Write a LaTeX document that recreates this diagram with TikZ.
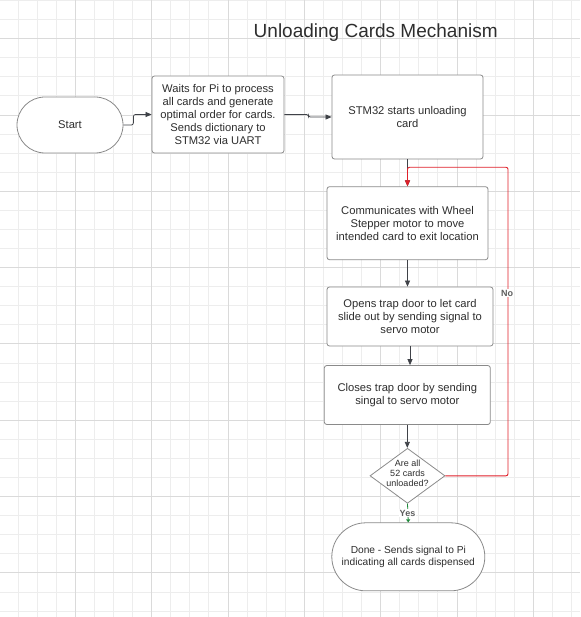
\documentclass[tikz,border=0pt]{standalone}
\usepackage{fontspec}
\setmainfont{Liberation Sans}
\usetikzlibrary{arrows.meta,shapes.geometric,shapes.misc}
\definecolor{gminor}{HTML}{EDEDED}
\definecolor{gmajor}{HTML}{DADADA}
\definecolor{bord}{HTML}{8A8A8A}
\definecolor{txt}{HTML}{2E2E2E}
\definecolor{arr}{HTML}{3F4248}
\definecolor{loopred}{HTML}{E0202A}
\definecolor{yesgreen}{HTML}{1E8A3A}
\definecolor{lbltxt}{HTML}{5E5E5E}
\begin{document}
\begin{tikzpicture}[x=1pt,y=-1pt,
  box/.style={draw=bord, line width=0.8pt, rounded corners=2.5pt, fill=white, text=txt,
    align=center, inner sep=0pt, font=\fontsize{11.2}{12.8}\selectfont},
  term/.style={draw=bord, line width=0.8pt, rounded rectangle, fill=white, text=txt,
    align=center, inner sep=0pt},
  decbox/.style={draw=bord, line width=0.8pt, diamond, fill=white, inner sep=0pt},
  conn/.style={draw=arr, line width=0.75pt, -{Triangle[length=6pt,width=5pt]}, rounded corners=2pt},
  lbl/.style={fill=white, text=lbltxt, font=\bfseries\fontsize{9}{10}\selectfont, inner sep=1pt}
]
\useasboundingbox (0,0) rectangle (580,617);
\fill[white] (0,0) rectangle (580,617);
% grid
\foreach \k in {0,...,30}{\draw[gminor, line width=0.8pt] ({-1+19.08*\k},0) -- ({-1+19.08*\k},617);}
\foreach \k in {0,...,32}{\draw[gminor, line width=0.8pt] (0,{0.44+19.08*\k}) -- (580,{0.44+19.08*\k});}
\foreach \k in {0,4,...,28}{\draw[gmajor, line width=0.8pt] ({-1+19.08*\k},0) -- ({-1+19.08*\k},617);}
\foreach \k in {2,6,...,30}{\draw[gmajor, line width=0.8pt] (0,{0.44+19.08*\k}) -- (580,{0.44+19.08*\k});}

% title
\node[anchor=base, text=txt, font=\fontsize{19}{22}\selectfont, inner sep=0pt] (title) at (375.7,37.8) {Unloading Cards Mechanism};

% nodes
\node[term, minimum width=106pt, minimum height=56pt, font=\fontsize{11.2}{12.8}\selectfont] (start) at (70,125) {Start};
\node[box, minimum width=132pt, minimum height=77pt] (b1) at (218,114.5)
  {Waits for Pi to process\\all cards and generate\\optimal order for cards.\\Sends dictionary to\\STM32 via UART};
\node[box, minimum width=151pt, minimum height=84pt] (b2) at (407.5,117)
  {STM32 starts unloading\\card};
\node[box, minimum width=161pt, minimum height=73pt] (b3) at (407.5,223.2)
  {Communicates with Wheel\\Stepper motor to move\\intended card to exit location};
\node[box, minimum width=166pt, minimum height=59pt] (b4) at (410,316.5)
  {Opens trap door to let card\\slide out by sending signal to\\servo motor};
\node[box, minimum width=166pt, minimum height=59pt] (b5) at (407.3,395)
  {Closes trap door by sending\\singal to servo motor};
\node[decbox, minimum width=75pt, minimum height=55pt] (dec) at (407.5,475.8) {};
\node[text=txt, align=center, inner sep=0pt, font=\fontsize{9}{10}\selectfont] (dectext) at (407.5,473.6)
  {Are all\\52 cards\\unloaded?};
\node[term, minimum width=153pt, minimum height=68pt, font=\fontsize{10.2}{11.7}\selectfont] (done) at (408.3,556.8)
  {Done - Sends signal to Pi\\indicating all cards dispensed};

% connectors
\draw[conn] (start.east) -- ++(10,0) |- (b1.west);
\draw[conn] (b1.east) -- ++(24,0) |- (b2.west);
\draw[conn] (b2.south) -- (b3.north);
\draw[conn] (b3.south) -- (b3.south |- b4.north);
\draw[conn] (b4.south) -- (b4.south |- b5.north);
\draw[conn] (b5.south) -- (b5.south |- dec.north);
\coordinate (loopc) at (508,167.3);
\draw[conn, draw=loopred, line width=0.9pt] (dec.east) -| (loopc) -| (b3.north);
\node[lbl] (no) at (507,293) {No};
\draw[yesgreen, line width=0.8pt, -{Triangle[length=3pt,width=4pt]}] (dec.south) -- (done.north);
\node[lbl] (yes) at (407.5,513.2) {Yes};
\end{tikzpicture}
\end{document}
